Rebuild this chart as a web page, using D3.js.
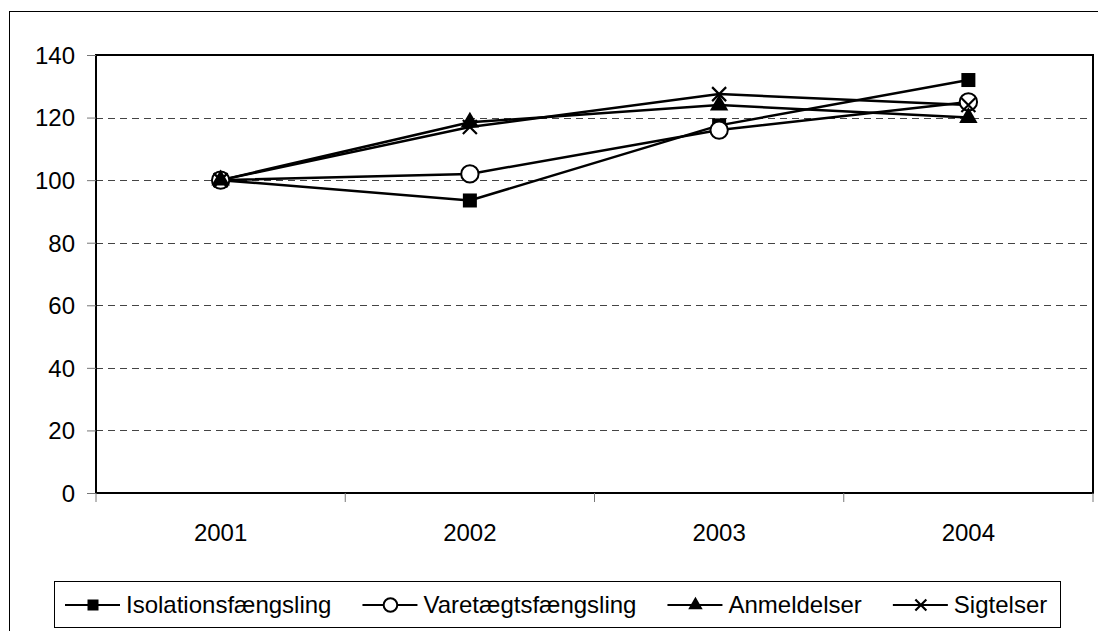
<!DOCTYPE html>
<html>
<head>
<meta charset="utf-8">
<script src="https://cdn.jsdelivr.net/npm/d3@7"></script>
<style>
  body { margin: 0; background: #fff; }
  svg text { font-family: Arial, "Liberation Sans", sans-serif; fill: #000; }
</style>
</head>
<body>
<div id="chart"></div>
<script>
var years = ["2001", "2002", "2003", "2004"];
var seriesNames = ["Isolationsfængsling", "Varetægtsfængsling", "Anmeldelser", "Sigtelser"];
var isolation = [100, 93.5, 117.5, 132];
var varetaegt = [100, 102, 116, 125];
var anmeldelser = [100, 118.5, 124, 120];
var sigtelser = [100, 117, 127.5, 124];
var yTicks = [0, 20, 40, 60, 80, 100, 120, 140];

var width = 1098, height = 631;
var plotLeft = 96, plotRight = 1093, plotTop = 55, plotBottom = 493;

var svg = d3.select("#chart").append("svg").attr("width", width).attr("height", height);

// outer chart frame (runs off the picture right and bottom)
svg.append("rect").attr("x", 9.5).attr("y", 11.5).attr("width", 1200).attr("height", 700)
  .attr("fill", "none").attr("stroke", "#000").attr("stroke-width", 1);

var x = d3.scaleBand().domain(years).range([plotLeft, plotRight]);
var y = d3.scaleLinear().domain([0, 140]).range([plotBottom, plotTop]);

// gridlines
svg.append("g").selectAll("line")
  .data(yTicks.filter(function(d) { return d > 0 && d < 140; }))
  .enter().append("line")
  .attr("x1", plotLeft).attr("x2", plotRight)
  .attr("y1", function(d) { return Math.round(y(d)) + 0.5; })
  .attr("y2", function(d) { return Math.round(y(d)) + 0.5; })
  .attr("stroke", "#444").attr("stroke-width", 1).attr("stroke-dasharray", "7,5");

// plot frame
svg.append("rect").attr("x", plotLeft).attr("y", plotTop).attr("width", plotRight - plotLeft).attr("height", plotBottom - plotTop)
  .attr("fill", "none").attr("stroke", "#000").attr("stroke-width", 2);

// y axis
var yAxis = svg.append("g").attr("transform", "translate(" + plotLeft + ",0)")
  .call(d3.axisLeft(y).tickValues(yTicks).tickSize(9).tickPadding(12));
yAxis.select(".domain").remove();
yAxis.selectAll(".tick line").attr("stroke", "#777");
yAxis.selectAll("text").style("font-size", "24px").attr("dy", "0.35em");

// x axis: ticks at category boundaries
var bounds = years.map(function(d) { return x(d); }).concat([plotRight]);
svg.append("g").selectAll("line").data(bounds).enter().append("line")
  .attr("x1", function(d) { return d; }).attr("x2", function(d) { return d; })
  .attr("y1", plotBottom).attr("y2", plotBottom + 9)
  .attr("stroke", "#777").attr("stroke-width", 1);
svg.append("g").selectAll("text").data(years).enter().append("text")
  .attr("x", function(d) { return x(d) + x.bandwidth() / 2; })
  .attr("y", 541)
  .attr("text-anchor", "middle")
  .style("font-size", "24px")
  .text(function(d) { return d; });

var line = d3.line()
  .x(function(d, i) { return x(years[i]) + x.bandwidth() / 2; })
  .y(function(d) { return y(d); });

function drawMarker(g, type, cx, cy, s) {
  if (type === "square") {
    g.append("rect").attr("x", cx - s * 0.5).attr("y", cy - s * 0.5).attr("width", s).attr("height", s).attr("fill", "#000");
  } else if (type === "circle") {
    g.append("circle").attr("cx", cx).attr("cy", cy).attr("r", s * 0.62).attr("fill", "#fff").attr("stroke", "#000").attr("stroke-width", 2);
  } else if (type === "triangle") {
    g.append("path").attr("d", d3.symbol().type(d3.symbolTriangle).size(s * s * 0.75)())
      .attr("transform", "translate(" + cx + "," + cy + ")").attr("fill", "#000");
  } else if (type === "x") {
    var h = s * 0.5;
    g.append("path").attr("d", "M" + (cx - h) + "," + (cy - h) + "L" + (cx + h) + "," + (cy + h) + "M" + (cx - h) + "," + (cy + h) + "L" + (cx + h) + "," + (cy - h))
      .attr("stroke", "#000").attr("stroke-width", 2.2).attr("fill", "none");
  }
}

var series = [
  { name: seriesNames[0], values: isolation, marker: "square" },
  { name: seriesNames[1], values: varetaegt, marker: "circle" },
  { name: seriesNames[2], values: anmeldelser, marker: "triangle" },
  { name: seriesNames[3], values: sigtelser, marker: "x" }
];

series.forEach(function(s) {
  svg.append("path").datum(s.values).attr("d", line)
    .attr("fill", "none").attr("stroke", "#000").attr("stroke-width", 2.5);
});
series.forEach(function(s) {
  var g = svg.append("g");
  s.values.forEach(function(v, i) {
    drawMarker(g, s.marker, x(years[i]) + x.bandwidth() / 2, y(v), 14);
  });
});

// legend
var legend = svg.append("g");
legend.append("rect").attr("x", 54.5).attr("y", 581.5).attr("width", 1006).attr("height", 46)
  .attr("fill", "#fff").attr("stroke", "#000").attr("stroke-width", 1);
var lx = 65, ly = 605;
series.forEach(function(s) {
  var g = legend.append("g");
  g.append("line").attr("x1", lx).attr("x2", lx + 55).attr("y1", ly).attr("y2", ly)
    .attr("stroke", "#000").attr("stroke-width", 2);
  drawMarker(g, s.marker, lx + 28, ly, 11);
  var t = g.append("text").attr("x", lx + 61).attr("y", ly + 8).style("font-size", "24px").text(s.name);
  lx += 61 + t.node().getComputedTextLength() + 31;
});
</script>
</body>
</html>
